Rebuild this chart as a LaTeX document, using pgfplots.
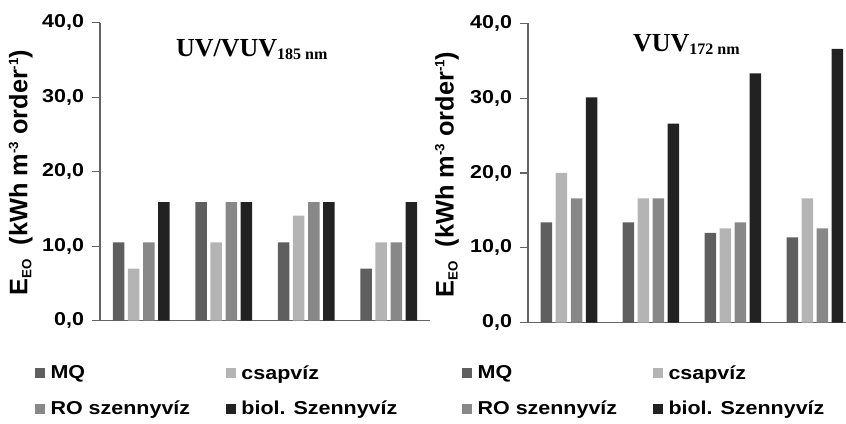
\documentclass[border=0pt]{standalone}
\usepackage{pgfplots}
\pgfplotsset{compat=1.18}
\usepackage{fontspec}
\setmainfont{Liberation Sans}
\newfontfamily\tickfam[FakeStretch=1.15]{Liberation Sans}
\newfontfamily\legfam[FakeStretch=1.15]{Liberation Sans}
\newfontfamily\seriffam{Liberation Serif}
\definecolor{cMQ}{RGB}{95,95,95}
\definecolor{cCS}{RGB}{180,180,180}
\definecolor{cRO}{RGB}{136,136,136}
\definecolor{cBI}{RGB}{34,34,34}
\definecolor{axc}{RGB}{100,100,100}

\pgfplotstableread{
x MQ CS RO BI
0 10.5 7.0 10.5 15.9
1 15.9 10.5 15.9 15.9
2 10.5 14.1 15.9 15.9
3 7.0 10.5 10.5 15.9
}\leftdata
\pgfplotstableread{
x MQ CS RO BI
0 13.4 20.0 16.6 30.1
1 13.4 16.6 16.6 26.6
2 12.0 12.6 13.4 33.3
3 11.4 16.6 12.6 36.6
}\rightdata

\pgfplotsset{
  panel/.style={
    scale only axis,
    clip=false,
    anchor=south west,
    ybar,
    bar width=0.14,
    ymin=0, ymax=40,
    xmin=-0.5,
    ytick={0,10,20,30,40},
    xtick=\empty,
    axis x line*=bottom,
    axis y line*=left,
    axis line style={draw=axc, line width=0.9pt, -},
    tick align=outside,
    major tick length=6pt,
    ytick style={draw=axc, line width=0.9pt},
    yticklabel style={font=\tickfam\bfseries\fontsize{14}{16}\selectfont, xshift=-2.5pt},
    /pgf/number format/.cd, fixed, fixed zerofill, precision=1, use comma, 1000 sep={}, assume math mode=true,
    /pgfplots/.cd,
    legend columns=2,
    legend cell align=left,
    legend image code/.code={\fill[##1] (0pt,-3.75pt) rectangle (7.5pt,3.75pt);},
    legend style={draw=none, fill=none, anchor=north west, inner sep=0pt,
      font=\legfam\bfseries\fontsize{14}{16}\selectfont,
      row sep=11pt,
      /tikz/every even column/.append style={column sep=25pt},
      /tikz/every odd column/.append style={column sep=2pt}},
  },
}
\tikzset{ylab/.style={font=\bfseries\fontsize{19}{21}\selectfont, rotate=90, anchor=center}}

\newcommand{\ylabtext}{E{\fontsize{10}{10}\selectfont\raisebox{-3pt}{EO}}\ \ (kWh m\raisebox{7pt}{\fontsize{10}{10}\selectfont -3} order\raisebox{7pt}{\fontsize{10}{10}\selectfont -1})}

\begin{document}
\begin{tikzpicture}
\useasboundingbox (0,0) rectangle (634.5pt,318pt);
\begin{axis}[panel, at={(75pt,77.5pt)}, width=247.5pt, height=223.5pt, xmax=3.5,
  legend style={at={(-0.197,-0.14)}}]
\addplot[fill=cMQ, draw=none, bar shift=-0.275] table[x=x,y=MQ]{\leftdata};
\addplot[fill=cCS, draw=none, bar shift=-0.092] table[x=x,y=CS]{\leftdata};
\addplot[fill=cRO, draw=none, bar shift=0.092] table[x=x,y=RO]{\leftdata};
\addplot[fill=cBI, draw=none, bar shift=0.275] table[x=x,y=BI]{\leftdata};
\legend{MQ,csapvíz,RO szennyvíz,biol. Szennyvíz}
\node[ylab] at (axis description cs:-0.24,0.497) {\ylabtext};
\node[anchor=base, font=\seriffam\bfseries] at (axis description cs:0.46,0.885)
  {\fontsize{19.5}{22}\selectfont UV/VUV\raisebox{-2pt}{\fontsize{12}{14}\selectfont 185 nm}};
\end{axis}
\begin{axis}[panel, at={(396pt,76pt)}, width=238.5pt, height=224.5pt, xmax=3.38,
  legend style={at={(-0.2075,-0.133)}}]
\addplot[fill=cMQ, draw=none, bar shift=-0.275] table[x=x,y=MQ]{\rightdata};
\addplot[fill=cCS, draw=none, bar shift=-0.092] table[x=x,y=CS]{\rightdata};
\addplot[fill=cRO, draw=none, bar shift=0.092] table[x=x,y=RO]{\rightdata};
\addplot[fill=cBI, draw=none, bar shift=0.275] table[x=x,y=BI]{\rightdata};
\legend{MQ,csapvíz,RO szennyvíz,biol. Szennyvíz}
\node[ylab] at (axis description cs:-0.255,0.495) {\ylabtext};
\node[anchor=base, font=\seriffam\bfseries] at (axis description cs:0.498,0.905)
  {\fontsize{19.5}{22}\selectfont VUV\raisebox{-2pt}{\fontsize{12}{14}\selectfont 172 nm}};
\end{axis}
\end{tikzpicture}
\end{document}
